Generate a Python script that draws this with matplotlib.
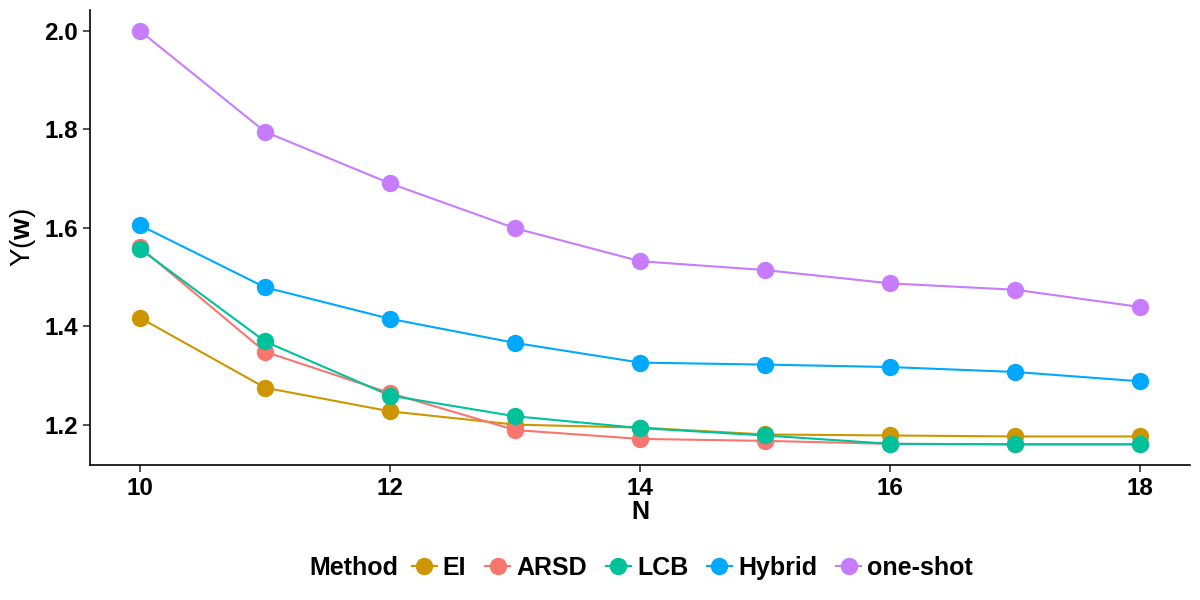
import matplotlib
matplotlib.use("Agg")
import matplotlib.pyplot as plt
from matplotlib.lines import Line2D

plt.rcParams['font.family'] = ['Liberation Sans', 'DejaVu Sans']
plt.rcParams['mathtext.fontset'] = 'custom'
plt.rcParams['mathtext.rm'] = 'Liberation Sans'
plt.rcParams['mathtext.bf'] = 'Liberation Sans:weight=bold'

# data
n_values = [10, 11, 12, 13, 14, 15, 16, 17, 18]
methods = ['EI', 'ARSD', 'LCB', 'Hybrid', 'one-shot']
ei = [1.417, 1.275, 1.227, 1.200, 1.194, 1.180, 1.178, 1.176, 1.176]
arsd = [1.560, 1.348, 1.264, 1.189, 1.171, 1.167, 1.161, 1.160, 1.160]
lcb = [1.557, 1.369, 1.259, 1.217, 1.193, 1.178, 1.161, 1.160, 1.160]
hybrid = [1.605, 1.479, 1.415, 1.366, 1.326, 1.322, 1.317, 1.307, 1.288]
one_shot = [2.000, 1.795, 1.690, 1.599, 1.532, 1.514, 1.487, 1.474, 1.439]
colors = ['#CD9600', '#F8766D', '#00C19A', '#00A9FF', '#C77CFF']

series = [ei, arsd, lcb, hybrid, one_shot]

fig = plt.figure(figsize=(12, 6), dpi=100)
ax = fig.add_axes([0.075, 0.225, 0.917, 0.758])

# lines first, then points (like ggplot layers)
for ys, c in zip(series, colors):
    ax.plot(n_values, ys, color=c, lw=1.5, zorder=2)
for ys, c in zip(series, colors):
    ax.plot(n_values, ys, 'o', color=c, ms=12.5, mew=0, zorder=3)

ax.set_xlim(9.6, 18.4)
ax.set_ylim(1.118, 2.042)
ax.set_xticks([10, 12, 14, 16, 18])
ax.set_yticks([1.2, 1.4, 1.6, 1.8, 2.0])
ax.set_yticklabels(['1.2', '1.4', '1.6', '1.8', '2.0'])

for s in ['top', 'right']:
    ax.spines[s].set_visible(False)
for s in ['left', 'bottom']:
    ax.spines[s].set_linewidth(1.2)
ax.tick_params(labelsize=17.5, width=1.2, length=5, color='#333333')
for lab in ax.get_xticklabels() + ax.get_yticklabels():
    lab.set_fontweight('bold')
    lab.set_color('black')

ax.set_xlabel('N', fontsize=18, fontweight='bold', labelpad=0)
ax.set_ylabel(r'Y($\mathbf{w}$)', fontsize=20, labelpad=5)

handles = [Line2D([0], [0], color=c, lw=1.5, marker='o', ms=12.5, mew=0) for c in colors]
fig.text(0.258, 0.054, 'Method', fontsize=18, fontweight='bold', va='center', ha='left')
leg = fig.legend(handles, methods, loc='center left', bbox_to_anchor=(0.343, 0.054),
                 ncol=5, frameon=False, fontsize=18, handlelength=1.0,
                 handletextpad=0.25, columnspacing=0.75, borderpad=0, borderaxespad=0)
for t in leg.get_texts():
    t.set_fontweight('bold')

fig.savefig('out.png', dpi=100)
